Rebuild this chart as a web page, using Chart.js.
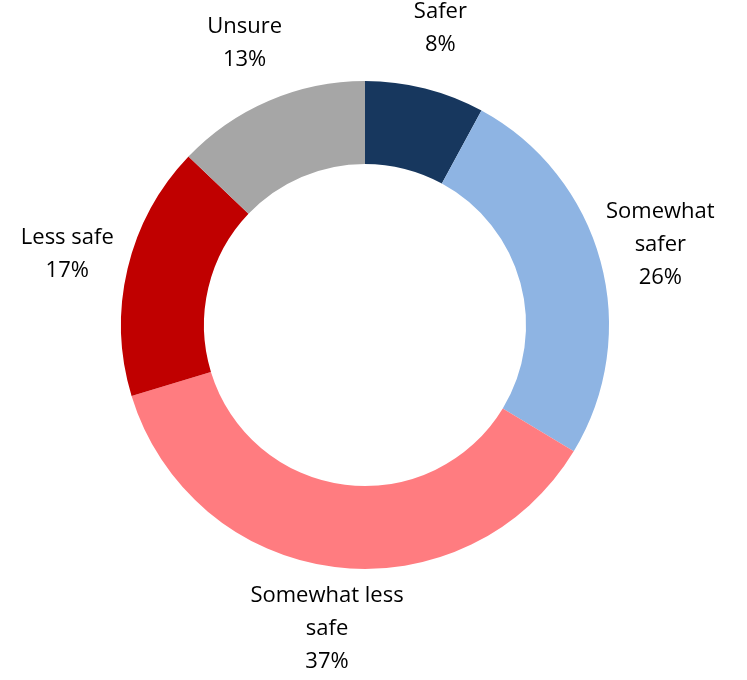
<!DOCTYPE html>
<html>
<head>
<meta charset="utf-8">
<script src="https://cdn.jsdelivr.net/npm/chart.js@4/dist/chart.umd.min.js"></script>
<style>
  html, body { margin: 0; padding: 0; background: #fff; }
  #wrap { width: 747px; height: 680px; }
</style>
</head>
<body>
<div id="wrap"><canvas id="dona"></canvas></div>
<script>
// datos del grafico
const categorias = ['Safer', 'Somewhat safer', 'Somewhat less safe', 'Less safe', 'Unsure'];
const valores = [8, 26, 37, 17, 13];
const lineasEtiqueta = [
    ['Safer', '8%'],
    ['Somewhat', 'safer', '26%'],
    ['Somewhat less', 'safe', '37%'],
    ['Less safe', '17%'],
    ['Unsure', '13%']
];
const colores = ['#17375E', '#8EB4E3', '#FF7C80', '#C00000', '#A6A6A6'];

const dona = document.querySelector('#dona');

// etiquetas afuera del anillo
const etiquetasFuera = {
    id: 'etiquetasFuera',
    afterDraw(chart) {
        const ctx = chart.ctx;
        const meta = chart.getDatasetMeta(0);
        ctx.save();
        ctx.font = '22px "Open Sans"';
        ctx.fillStyle = '#000000';
        ctx.textAlign = 'center';
        ctx.textBaseline = 'middle';
        const alto = 33;
        meta.data.forEach((arc, i) => {
            const p = arc.getProps(['x', 'y', 'startAngle', 'endAngle', 'outerRadius'], true);
            const ang = (p.startAngle + p.endAngle) / 2;
            const dist = p.outerRadius + 62;
            const cx = p.x + Math.cos(ang) * dist;
            const cy = p.y + Math.sin(ang) * dist;
            const lineas = lineasEtiqueta[i];
            const y0 = cy - (lineas.length - 1) * alto / 2;
            lineas.forEach((t, j) => ctx.fillText(t, cx, y0 + j * alto));
        });
        ctx.restore();
    }
};

const config = {
    type: 'doughnut',
    data: {
        labels: categorias,
        datasets: [{
            data: valores,
            backgroundColor: colores,
            borderWidth: 0,
            hoverOffset: 0
        }]
    },
    options: {
        responsive: true,
        maintainAspectRatio: false,
        animation: false,
        cutout: '66%',
        layout: {
            padding: { top: 81, bottom: 111, left: 121, right: 138 }
        },
        plugins: {
            legend: { display: false },
            tooltip: { enabled: false }
        }
    },
    plugins: [etiquetasFuera]
};

new Chart(dona, config);
</script>
</body>
</html>
